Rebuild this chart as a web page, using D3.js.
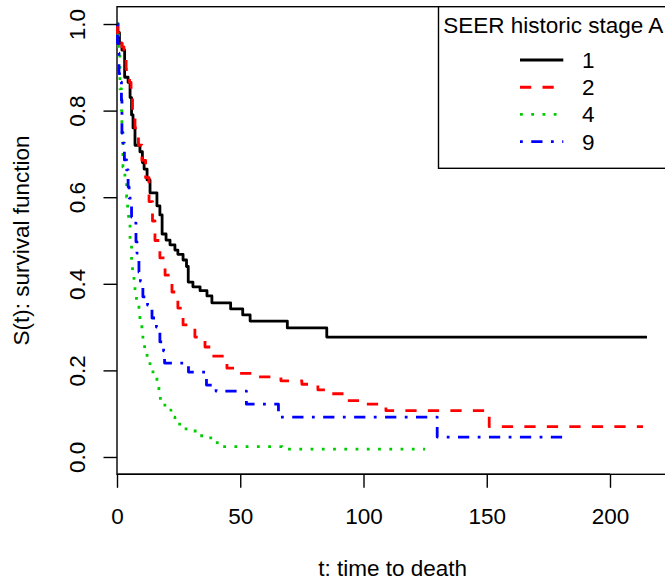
<!DOCTYPE html>
<html>
<head>
<meta charset="utf-8">
<script src="https://cdn.jsdelivr.net/npm/d3@7"></script>
<style>
  html, body { margin: 0; padding: 0; background: #fff; }
  svg { display: block; }
</style>
</head>
<body>
<svg id="chart" width="665" height="582"></svg>
<script>
// ---------------- data ----------------
const categories = ["1", "2", "4", "9"];
const legendTitle = "SEER historic stage A";
const xLabel = "t: time to death";
const yLabel = "S(t): survival function";
const xTicks = [0, 50, 100, 150, 200];
const yTicks = [0, 0.2, 0.4, 0.6, 0.8, 1.0];
const maxTime = 215;

const timesStage1 = [0, 0.4, 1.0, 2.0, 3.1, 4.5, 5.3, 5.9, 6.5, 7.3, 9.3, 10.3, 11.0, 12.2, 13.4, 16.2, 17.4, 18.3, 19.9, 21.5, 23.5, 24.7, 26.8, 28.2, 28.9, 30.8, 33.7, 36.5, 38.5, 46.1, 51.0, 54.0, 69.1, 85.1, 215];
const survStage1  = [1, 0.98, 0.956, 0.94, 0.877, 0.865, 0.83, 0.79, 0.76, 0.72, 0.705, 0.68, 0.665, 0.64, 0.61, 0.58, 0.559, 0.515, 0.501, 0.49, 0.478, 0.468, 0.455, 0.44, 0.404, 0.393, 0.384, 0.372, 0.356, 0.342, 0.328, 0.314, 0.298, 0.277, 0.277];

const timesStage2 = [0, 0.2, 0.8, 2.0, 2.8, 3.7, 5.1, 5.7, 6.3, 7.3, 8.7, 10.1, 11.6, 13.0, 14.4, 15.4, 17.4, 19.5, 22.3, 24.7, 26.8, 31.6, 35.7, 38.5, 44.6, 47.9, 56.0, 66.5, 75.0, 81.5, 85.6, 92.5, 99.4, 109.1, 151.0, 213.4];
const survStage2  = [1, 0.979, 0.956, 0.947, 0.92, 0.895, 0.865, 0.835, 0.8, 0.76, 0.72, 0.685, 0.645, 0.59, 0.545, 0.5, 0.46, 0.42, 0.381, 0.344, 0.305, 0.277, 0.254, 0.233, 0.205, 0.193, 0.185, 0.176, 0.168, 0.155, 0.146, 0.13, 0.122, 0.107, 0.07, 0.07];

const timesStage4 = [0, 0.6, 1.2, 1.8, 2.0, 2.4, 3.2, 3.9, 4.3, 4.7, 5.3, 5.9, 6.3, 6.9, 7.3, 7.9, 8.9, 9.3, 10.1, 10.5, 11.2, 12.2, 13.4, 14.6, 16.2, 17.0, 17.6, 20.3, 21.9, 23.5, 26.4, 30.4, 32.9, 36.5, 38.9, 41.8, 67.0, 125];
const survStage4  = [1, 0.93, 0.85, 0.80, 0.75, 0.67, 0.645, 0.60, 0.575, 0.55, 0.5, 0.455, 0.43, 0.40, 0.38, 0.36, 0.337, 0.31, 0.29, 0.266, 0.243, 0.224, 0.2, 0.185, 0.164, 0.145, 0.12, 0.108, 0.092, 0.076, 0.065, 0.06, 0.049, 0.044, 0.033, 0.024, 0.018, 0.018];

const timesStage9 = [0, 0.2, 0.6, 0.8, 1.0, 1.8, 2.0, 2.4, 3.0, 3.9, 4.5, 4.9, 5.9, 6.7, 7.7, 8.1, 8.9, 9.5, 10.5, 12.4, 14.2, 16.0, 17.4, 18.9, 19.3, 29.0, 36.3, 40.2, 52.5, 65.5, 129.9, 182.4];
const survStage9  = [1, 0.956, 0.933, 0.887, 0.866, 0.824, 0.748, 0.725, 0.686, 0.663, 0.624, 0.598, 0.554, 0.54, 0.497, 0.471, 0.427, 0.406, 0.37, 0.351, 0.321, 0.30, 0.266, 0.245, 0.217, 0.196, 0.166, 0.152, 0.122, 0.092, 0.046, 0.046];

// ---------------- styling ----------------
const FONT = "'Liberation Sans', Arial, Helvetica, sans-serif";
const FS = 22.5;
const LW = 2.8;
const colors = ["#000000", "#FF0000", "#00CD00", "#0000FF"];
const dashes = [null, "11.25,11.25", "2.8,8.45", "2.8,8.45,11.25,8.45"];

const series = [
  { key: categories[0], t: timesStage1, s: survStage1 },
  { key: categories[1], t: timesStage2, s: survStage2 },
  { key: categories[2], t: timesStage4, s: survStage4 },
  { key: categories[3], t: timesStage9, s: survStage9 }
];

const pLeft = 117, pRight = 117 + maxTime * 1.04 * 2.465, pTop = 6.7, pBottom = 474.3;

const x = d3.scaleLinear().domain([0, maxTime * 1.04]).range([pLeft, pRight]);
const y = d3.scaleLinear().domain([-0.04, 1.04]).range([pBottom, pTop]);

const svg = d3.select("#chart");

// plot box
svg.append("rect")
  .attr("x", pLeft).attr("y", pTop)
  .attr("width", pRight - pLeft).attr("height", pBottom - pTop)
  .attr("fill", "none").attr("stroke", "#000").attr("stroke-width", 1.4);

// curves
const line = d3.line()
  .x(d => x(d[0]))
  .y(d => y(d[1]))
  .curve(d3.curveStepAfter);

series.forEach((sr, i) => {
  const pts = sr.t.map((t, j) => [t, sr.s[j]]);
  svg.append("path")
    .attr("d", line(pts))
    .attr("fill", "none")
    .attr("stroke", colors[i])
    .attr("stroke-width", LW)
    .attr("stroke-dasharray", dashes[i])
    .attr("stroke-linecap", "butt")
    .attr("stroke-linejoin", "round");
});

// x axis
const gx = svg.append("g")
  .attr("transform", `translate(0,${pBottom})`)
  .call(d3.axisBottom(x).tickValues(xTicks).tickFormat(d3.format("d")).tickSize(13.5).tickSizeOuter(0));
gx.select(".domain").remove();
gx.append("line").attr("x1", x(xTicks[0])).attr("x2", x(xTicks[xTicks.length - 1]))
  .attr("stroke", "#000").attr("stroke-width", 1.4);
gx.selectAll(".tick line").attr("stroke-width", 1.4);
gx.selectAll(".tick text")
  .attr("y", 50).attr("dy", 0)
  .attr("font-family", FONT).attr("font-size", FS).attr("fill", "#000");

// y axis
const gy = svg.append("g")
  .attr("transform", `translate(${pLeft},0)`)
  .call(d3.axisLeft(y).tickValues(yTicks).tickFormat(d3.format(".1f")).tickSize(13.5).tickSizeOuter(0));
gy.select(".domain").remove();
gy.selectAll(".tick line").attr("stroke-width", 1.4);
gy.selectAll(".tick text")
  .attr("x", 0).attr("dy", 0)
  .attr("text-anchor", "middle")
  .attr("transform", "translate(-32,0) rotate(-90)")
  .attr("font-family", FONT).attr("font-size", FS).attr("fill", "#000");

// axis titles
svg.append("text")
  .attr("x", (pLeft + pRight) / 2).attr("y", 576)
  .attr("text-anchor", "middle")
  .attr("font-family", FONT).attr("font-size", FS)
  .text(xLabel);

svg.append("text")
  .attr("transform", `translate(29,${(pTop + pBottom) / 2}) rotate(-90)`)
  .attr("text-anchor", "middle")
  .attr("font-family", FONT).attr("font-size", FS)
  .text(yLabel);

// legend
const lgLeft = 438.5, lgTop = pTop, lgBottom = 168.3;
svg.append("rect")
  .attr("x", lgLeft).attr("y", lgTop)
  .attr("width", pRight - lgLeft).attr("height", lgBottom - lgTop)
  .attr("fill", "#fff").attr("stroke", "#000").attr("stroke-width", 1.4);

svg.append("text")
  .attr("x", (lgLeft + pRight) / 2).attr("y", 33)
  .attr("text-anchor", "middle")
  .attr("font-family", FONT).attr("font-size", FS)
  .text(legendTitle);

const legY = d3.scalePoint().domain(categories).range([60, 141.7]);
categories.forEach((c, i) => {
  svg.append("line")
    .attr("x1", 520).attr("x2", 563.3)
    .attr("y1", legY(c)).attr("y2", legY(c))
    .attr("stroke", colors[i]).attr("stroke-width", LW)
    .attr("stroke-dasharray", dashes[i]);
  svg.append("text")
    .attr("x", 582).attr("y", legY(c) + 8)
    .attr("font-family", FONT).attr("font-size", FS)
    .text(c);
});
</script>
</body>
</html>
